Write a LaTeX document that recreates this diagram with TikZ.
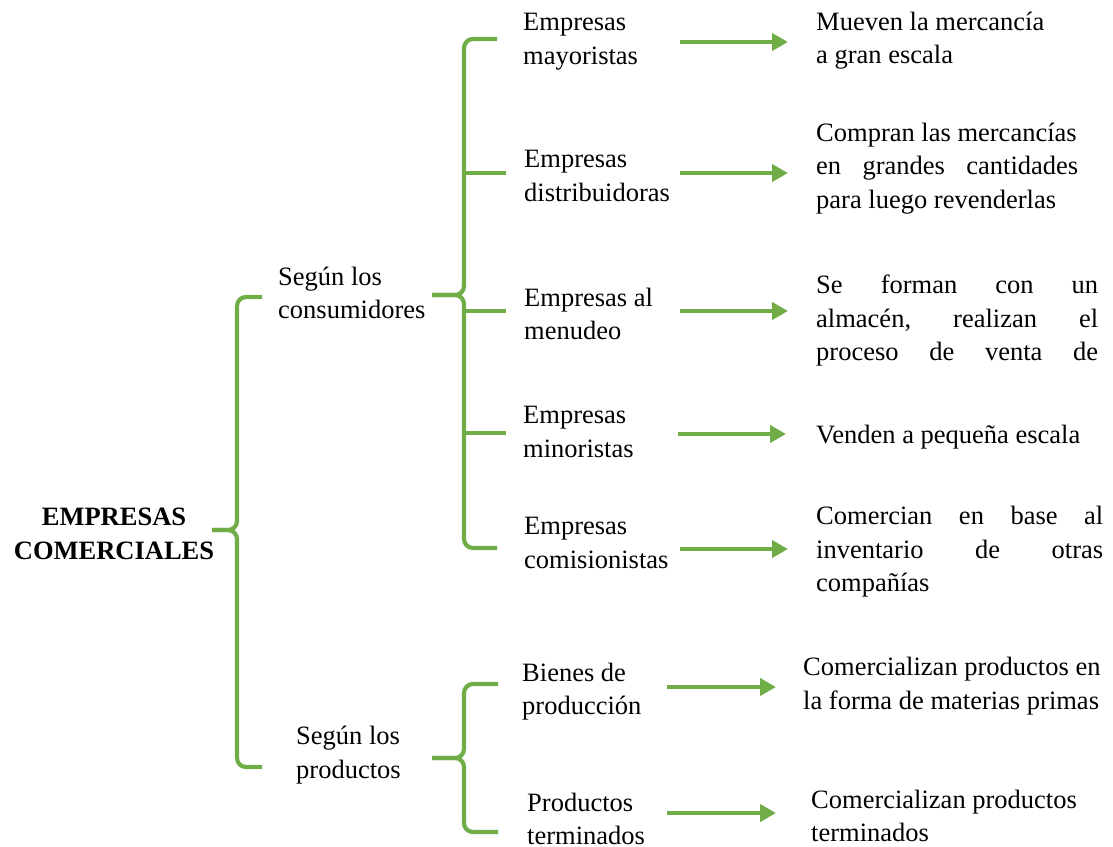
\documentclass[tikz,border=0pt]{standalone}
\usepackage{fontspec}
\setmainfont{Liberation Serif}
\usetikzlibrary{arrows.meta}
\definecolor{leaf}{RGB}{112,173,71}
\begin{document}
\begin{tikzpicture}[x=1pt,y=-1pt,
  txt/.style={font=\fontsize{26.5}{33.5}\selectfont, inner sep=0pt, align=left, anchor=west},
  head/.style={font=\fontsize{26.5}{33.5}\selectfont\bfseries, inner sep=0pt, align=center, anchor=center},
  brace/.style={draw=leaf, line width=4.2pt, rounded corners=9pt},
  arr/.style={draw=leaf, line width=4.2pt, -{Triangle[length=16pt,width=17pt]}}]
\useasboundingbox (0,0) rectangle (1113,846);

% root and the two criteria
\node[head] (root) at (114,534) {EMPRESAS\\COMERCIALES};
\node[txt] (cons) at (278,293) {Según los\\consumidores};
\node[txt] (prod) at (296,755) {Según los\\productos};

% company types
\node[txt] (may)  at (523,41.5)  {Empresas\\mayoristas};
\node[txt] (dist) at (524,176)   {Empresas\\distribuidoras};
\node[txt] (menu) at (524,314)   {Empresas al\\menudeo};
\node[txt] (mino) at (523,432)   {Empresas\\minoristas};
\node[txt] (comi) at (524,543)   {Empresas\\comisionistas};
\node[txt] (bien) at (522,691.5) {Bienes de\\producción};
\node[txt] (term) at (527,819)   {Productos\\terminados};

% descriptions
\node[txt] (d1) at (816,40.5) {Mueven la mercancía\\a gran escala};
\node[txt] (d2) at (816,168.5) {Compran las mercancías\\\hbox to 262pt{en\hfill grandes\hfill cantidades}\\para luego revenderlas};
\node[txt] (d3) at (816,320.5) {\hbox to 282pt{Se\hfill forman\hfill con\hfill un}\\\hbox to 282pt{almacén,\hfill realizan\hfill el}\\\hbox to 282pt{proceso\hfill de\hfill venta\hfill de}};
\node[txt] (d4) at (816,437) {Venden a pequeña escala};
\node[txt] (d5) at (816,552) {\hbox to 287pt{Comercian\hfill en\hfill base\hfill al}\\\hbox to 287pt{inventario\hfill de\hfill otras}\\compañías};
\node[txt] (d6) at (803,686) {Comercializan productos en\\la forma de materias primas};
\node[txt] (d7) at (811,816) {Comercializan productos\\terminados};

% main brace
\draw[brace] (262,297) -- (237,297) -- (237,530) -- (212,530);
\draw[brace] (212,530) -- (237,530) -- (237,767) -- (262,767);

% brace of the consumer criterion
\draw[brace] (497,39) -- (464,39) -- (464,295) -- (432,295);
\draw[brace] (432,295) -- (464,295) -- (464,548) -- (497,548);
\draw[brace] (464,173) -- (506,173);
\draw[brace] (464,311) -- (506,311);
\draw[brace] (464,433) -- (506,433);

% brace of the product criterion
\draw[brace] (498,684) -- (464,684) -- (464,758) -- (432,758);
\draw[brace] (432,758) -- (464,758) -- (464,832) -- (498,832);

% arrows towards the descriptions
\coordinate (a1s) at (680,42);  \coordinate (a1e) at (788,42);
\coordinate (a2s) at (680,173); \coordinate (a2e) at (788,173);
\coordinate (a3s) at (680,311); \coordinate (a3e) at (788,311);
\coordinate (a4s) at (678,434); \coordinate (a4e) at (786,434);
\coordinate (a5s) at (680,549); \coordinate (a5e) at (788,549);
\coordinate (a6s) at (667,687); \coordinate (a6e) at (776,687);
\coordinate (a7s) at (667,813); \coordinate (a7e) at (776,813);
\foreach \i in {1,...,7} \draw[arr] (a\i s) -- (a\i e);
\end{tikzpicture}
\end{document}
